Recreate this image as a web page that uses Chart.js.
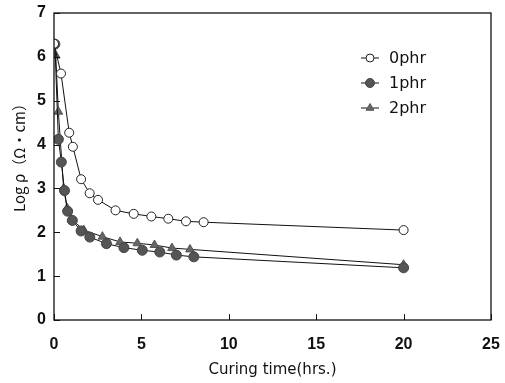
<!DOCTYPE html>
<html>
<head>
<meta charset="utf-8">
<script src="https://cdn.jsdelivr.net/npm/chart.js@4/dist/chart.umd.min.js"></script>
<style>
  html, body { margin: 0; padding: 0; background: #fff; }
  #wrap { position: relative; width: 505px; height: 383px; }
</style>
</head>
<body>
<div id="wrap"><canvas id="c"></canvas></div>
<script>
// curing time (hrs.) vs log resistivity, per filler loading
const time0 = [0, 0.4, 0.87, 1.08, 1.55, 2.04, 2.52, 3.52, 4.56, 5.57, 6.54, 7.55, 8.56, 20];
const rho0  = [6.3, 5.62, 4.27, 3.95, 3.21, 2.89, 2.74, 2.5, 2.42, 2.36, 2.31, 2.25, 2.23, 2.05];

const time1 = [0.05, 0.25, 0.42, 0.6, 0.78, 1.05, 1.55, 2.05, 3.0, 4.0, 5.05, 6.05, 7.0, 8.0, 20];
const rho1  = [6.29, 4.12, 3.6, 2.95, 2.48, 2.27, 2.03, 1.89, 1.74, 1.65, 1.59, 1.55, 1.48, 1.44, 1.19];

const time2 = [0.1, 0.25, 0.55, 0.75, 1.0, 1.7, 2.77, 3.78, 4.77, 5.75, 6.75, 7.78, 20];
const rho2  = [6.03, 4.75, 3.0, 2.55, 2.3, 2.05, 1.9, 1.78, 1.75, 1.71, 1.64, 1.61, 1.26];

const seriesNames = ['0phr', '1phr', '2phr'];
const xTicks = [0, 5, 10, 15, 20, 25];
const yTicks = [0, 1, 2, 3, 4, 5, 6, 7];
const yTitle = 'Log ρ（Ω・cm）';

const FONT = "'Liberation Sans', 'DejaVu Sans', sans-serif";
const TEXT_FONT = "'DejaVu Sans', sans-serif";

function pts(xs, ys) { return xs.map((x, i) => ({ x, y: ys[i] })); }

const styles = [
  { pointStyle: 'circle', pointRadius: 4.5, pointBackgroundColor: '#fff', pointBorderColor: '#222' },
  { pointStyle: 'circle', pointRadius: 5, pointBackgroundColor: '#555', pointBorderColor: '#444' },
  { pointStyle: 'triangle', pointRadius: 5, pointBackgroundColor: '#666', pointBorderColor: '#555' }
];

const datasets = [pts(time0, rho0), pts(time1, rho1), pts(time2, rho2)].map((data, i) => ({
  label: seriesNames[i],
  data,
  borderColor: '#111',
  borderWidth: 1,
  pointBorderWidth: 1,
  tension: 0,
  ...styles[i]
}));

// frame, inward ticks, y title and legend drawn on top
const framePlugin = {
  id: 'frame',
  afterDraw(chart) {
    const { ctx, chartArea: a, scales } = chart;
    ctx.save();
    ctx.strokeStyle = '#111';
    ctx.lineWidth = 1.3;
    ctx.strokeRect(a.left, a.top, a.right - a.left, a.bottom - a.top);
    ctx.lineWidth = 1;
    yTicks.forEach(v => {
      const y = Math.round(scales.y.getPixelForValue(v)) + 0.5;
      ctx.beginPath(); ctx.moveTo(a.left, y); ctx.lineTo(a.left + 6, y); ctx.stroke();
    });
    xTicks.forEach(v => {
      const x = Math.round(scales.x.getPixelForValue(v)) + 0.5;
      ctx.beginPath(); ctx.moveTo(x, a.bottom); ctx.lineTo(x, a.bottom - 6); ctx.stroke();
    });

    // rotated y title
    ctx.save();
    ctx.translate(19, 154);
    ctx.rotate(-Math.PI / 2);
    ctx.fillStyle = '#111';
    ctx.font = "15px 'Noto Sans CJK JP', sans-serif";
    ctx.textAlign = 'center';
    ctx.textBaseline = 'middle';
    ctx.fillText(yTitle, 0, 0);
    ctx.restore();

    // legend
    const lx = 361, ly = 58, gap = 25;
    chart.data.datasets.forEach((ds, i) => {
      const y = ly + i * gap;
      ctx.strokeStyle = '#111';
      ctx.beginPath(); ctx.moveTo(lx, y); ctx.lineTo(lx + 18, y); ctx.stroke();
      ctx.fillStyle = ds.pointBackgroundColor;
      ctx.strokeStyle = ds.pointBorderColor;
      Chart.helpers.drawPoint(ctx, { pointStyle: ds.pointStyle, radius: ds.pointRadius - 0.5, borderWidth: 1 }, lx + 9, y);
      ctx.fillStyle = '#111';
      ctx.font = '16px ' + TEXT_FONT;
      ctx.textBaseline = 'middle';
      ctx.fillText(ds.label, lx + 28, y + 1);
    });
    ctx.restore();
  }
};

new Chart(document.getElementById('c'), {
  type: 'line',
  data: { datasets },
  options: {
    responsive: true,
    maintainAspectRatio: false,
    animation: false,
    layout: { padding: { top: 13, right: 14, left: 0, bottom: 0 } },
    plugins: { legend: { display: false }, tooltip: { enabled: false } },
    scales: {
      x: {
        type: 'linear', min: 0, max: 25,
        afterBuildTicks: s => { s.ticks = xTicks.map(v => ({ value: v })); },
        afterFit: s => { s.height = 63; s.paddingLeft = 0; s.paddingRight = 0; },
        grid: { display: false, drawTicks: false },
        border: { display: false },
        ticks: { color: '#111', padding: 15, font: { family: FONT, size: 16, weight: 'bold' } },
        title: { display: true, text: 'Curing time(hrs.)', color: '#111', padding: { top: 4 }, font: { family: TEXT_FONT, size: 15 } }
      },
      y: {
        type: 'linear', min: 0, max: 7,
        afterBuildTicks: s => { s.ticks = yTicks.map(v => ({ value: v })); },
        afterFit: s => { s.width = 54; s.paddingTop = 0; s.paddingBottom = 0; },
        grid: { display: false, drawTicks: false },
        border: { display: false },
        ticks: { color: '#111', padding: 8, font: { family: FONT, size: 16, weight: 'bold' } },
        title: { display: false }
      }
    }
  },
  plugins: [framePlugin]
});
</script>
</body>
</html>
